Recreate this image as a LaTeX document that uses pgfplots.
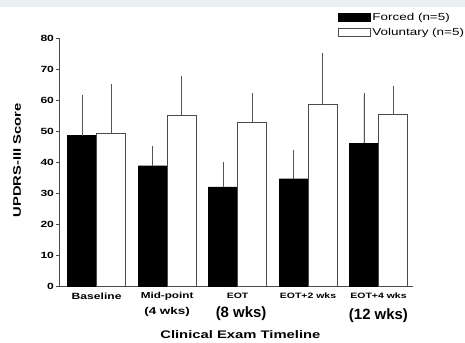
\documentclass[border=0pt]{standalone}
\usepackage{pgfplots}
\pgfplotsset{compat=1.18}
\usepackage{pgfplotstable}
\usepackage{graphicx}
\usepackage{fontspec}
\setmainfont{Liberation Sans}
\newcommand\W[1]{\scalebox{1.35}[1]{#1}}
\definecolor{axgray}{HTML}{4A4A4A}
\definecolor{errgray}{HTML}{555555}
\definecolor{band}{HTML}{EAF0F0}
\pgfplotstableread{
x forced ferr vol verr
0 48.5 12.5 49.2 15.3
1 38.8 5.8 54.9 12.3
2 32.0 7.2 52.9 8.7
3 34.6 8.7 58.5 16.0
4 46.0 15.6 55.4 8.4
}\data
\begin{document}
\begin{tikzpicture}
\path[use as bounding box] (0,0) rectangle (465bp,343bp);
\fill[band] (0,336bp) rectangle (465bp,343bp);
\begin{axis}[
  at={(60bp,57bp)}, anchor=south west,
  scale only axis, width=353bp, height=248bp,
  xmin=-0.52, xmax=4.49, ymin=0, ymax=80,
  axis x line*=bottom, axis y line*=left,
  axis line style={draw=axgray, line width=1bp},
  ytick={0,10,...,80},
  yticklabel={\W{\pgfmathprintnumber{\tick}}},
  xtick={0,1,2,3,4},
  xticklabels={{\fontsize{9}{10}\selectfont\W{Baseline}},{\fontsize{8.7}{11}\selectfont\W{Mid-point}\\[3.5bp]\W{(4 wks)}},{\fontsize{7.8}{9}\selectfont\W{EOT}},{\fontsize{7.8}{9}\selectfont\W{EOT+2 wks}},{\fontsize{7.8}{9}\selectfont\W{EOT+4 wks}}},
  xtick style={draw=none},
  ytick style={draw=axgray, line width=0.8bp},
  tick align=outside, major tick length=4bp,
  /pgf/number format/assume math mode=true,
  yticklabel style={font=\bfseries\fontsize{9}{9}\selectfont, text=black, xshift=1.5bp},
  xticklabel style={font=\bfseries, align=center, text=black, inner sep=1.5bp, yshift=-1bp},
  ybar=0pt, bar width=29bp,
  clip=false,
  legend style={at={(0.786,1.11)}, anchor=north west, draw=none, fill=none,
    font=\fontsize{10}{11}\selectfont, inner sep=0pt, row sep=2.5bp,
    /tikz/every even column/.append style={column sep=4bp}},
  legend cell align=left,
  legend image code/.code={\draw[#1] (0bp,-4.3bp) rectangle (32bp,4.3bp);},
]
\addplot[fill=black, draw=black,
  error bars/.cd, y dir=plus, y explicit,
  error bar style={draw=errgray, line width=0.8bp},
  error mark options={draw=errgray, line width=0.8bp, mark size=2bp}]
  table[x=x, y=forced, y error=ferr] {\data};
\addlegendentry{\W{Forced (n=5)}}
\addplot[fill=white, draw=axgray, line width=0.8bp,
  error bars/.cd, y dir=plus, y explicit,
  error bar style={draw=errgray, line width=0.8bp},
  error mark options={draw=errgray, line width=0.8bp, mark size=2bp}]
  table[x=x, y=vol, y error=verr] {\data};
\addlegendentry{\W{Voluntary (n=5)}}
\node[font=\bfseries\fontsize{15}{15}\selectfont] at (axis cs:2.05,-8.9) {(8 wks)};
\node[font=\bfseries\fontsize{15}{15}\selectfont] at (axis cs:4,-9.4) {(12 wks)};
\node[font=\bfseries\fontsize{11}{11}\selectfont, text=black] at (axis cs:2.04,-15.8) {\W{Clinical Exam Timeline}};
\node[rotate=90, font=\bfseries\fontsize{11}{11}\selectfont, text=black] at (axis cs:-1.13,40.6) {\W{UPDRS-III Score}};
\end{axis}
\end{tikzpicture}
\end{document}
